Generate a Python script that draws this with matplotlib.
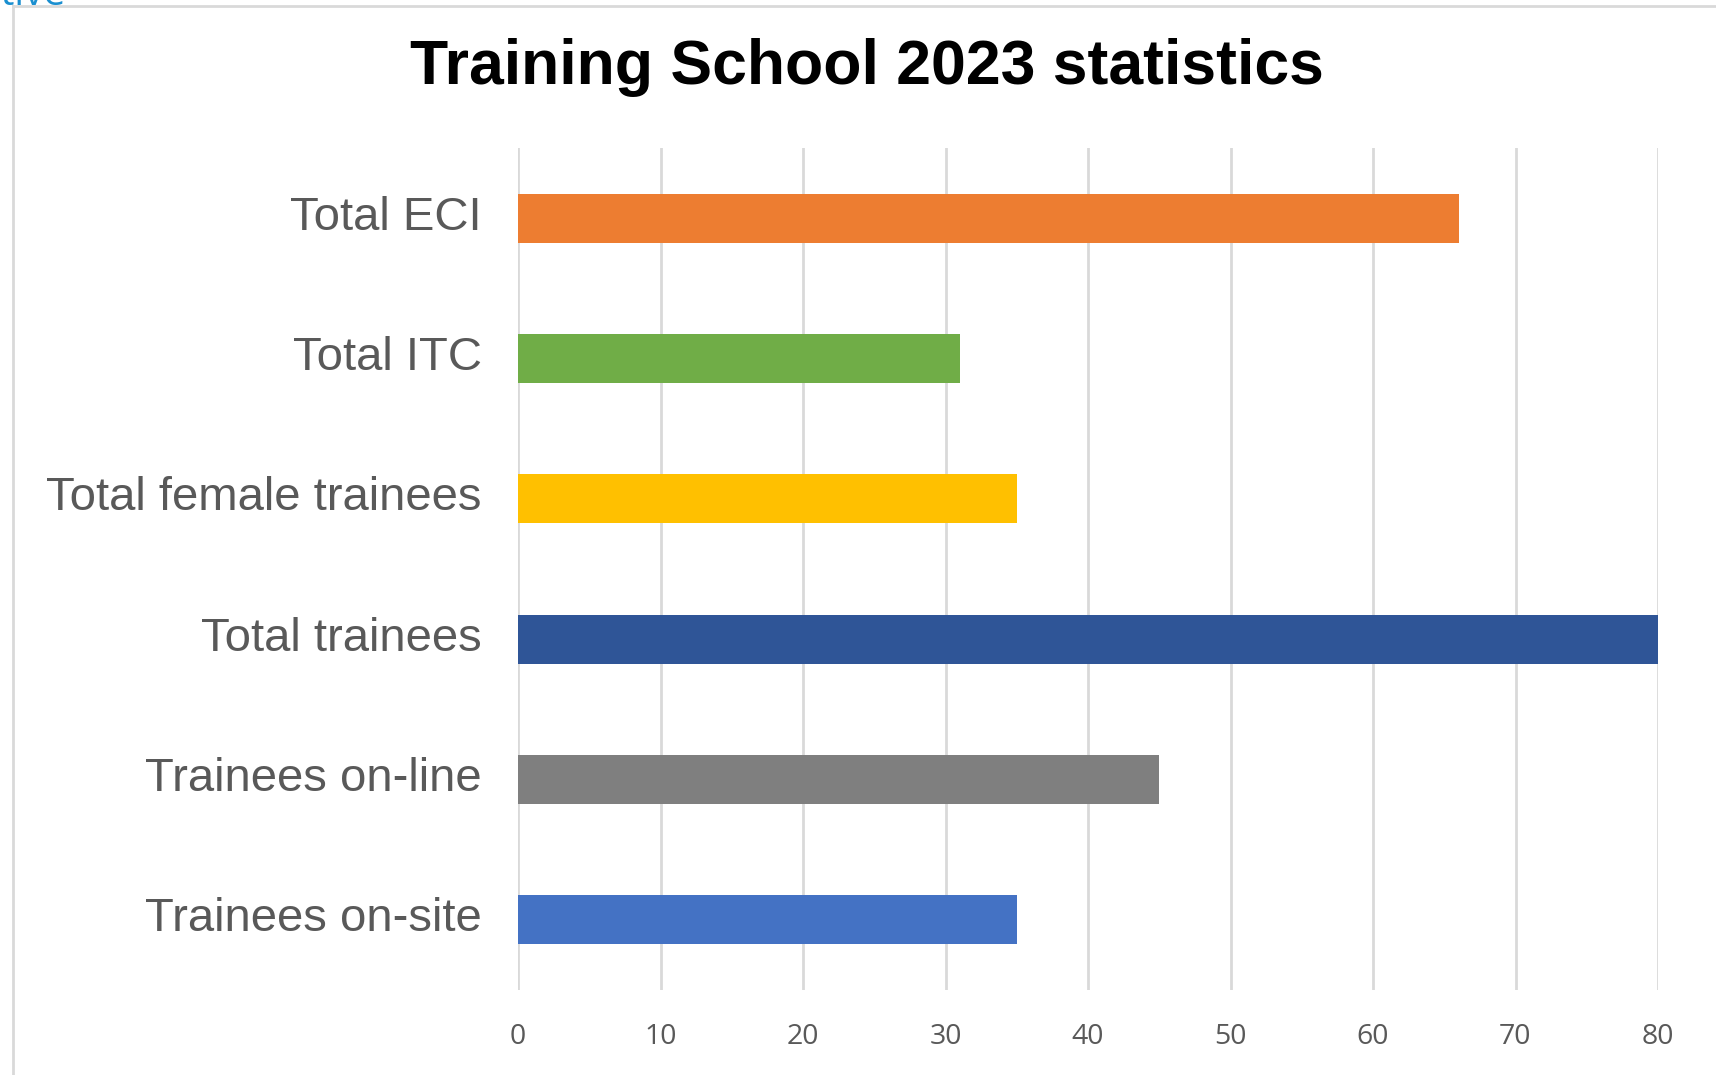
import matplotlib.pyplot as plt
import matplotlib.transforms as mtransforms
from matplotlib.lines import Line2D

# Datos del gráfico (de abajo hacia arriba)
categories = ['Trainees on-site', 'Trainees on-line', 'Total trainees',
              'Total female trainees', 'Total ITC', 'Total ECI']
values = [35, 45, 80, 35, 31, 66]
colors = ['#4472C4', '#7F7F7F', '#2F5597', '#FFC000', '#70AD47', '#ED7D31']
xticks = [0, 10, 20, 30, 40, 50, 60, 70, 80]

W, H = 1716, 1075
fig = plt.figure(figsize=(W / 100, H / 100), dpi=100)
ax = fig.add_axes([518 / W, 1 - 990 / H, (1658 - 518) / W, (990 - 148) / H])

ax.barh(range(len(categories)), values, height=0.35, color=colors, zorder=3)

ax.set_xlim(0, 80)
ax.set_ylim(-0.5, len(categories) - 0.5)
ax.set_xticks(xticks)
ax.set_yticks(range(len(categories)))
ax.set_yticklabels(categories, family=['Liberation Sans', 'DejaVu Sans'],
                   fontsize=34, color='#595959')
ax.set_xticklabels([str(t) for t in xticks], family=['Open Sans', 'DejaVu Sans'],
                   fontsize=20.5, color='#595959')
ax.tick_params(axis='y', length=0, pad=26)
ax.tick_params(axis='x', length=0, pad=24)
ax.grid(axis='x', color='#d9d9d9', linewidth=2, zorder=0)
for s in ax.spines.values():
    s.set_visible(False)

# etiquetas un poco por encima del centro de la barra, como en el original
offset = mtransforms.ScaledTranslation(0, 4 / 72, fig.dpi_scale_trans)
for lbl in ax.get_yticklabels():
    lbl.set_transform(lbl.get_transform() + offset)

fig.text(0.505, 0.937, 'Training School 2023 statistics',
         family=['Liberation Sans Narrow', 'Liberation Sans'], weight='bold',
         fontsize=45, ha='center', va='center', color='black')

# Bordes de la captura y texto recortado arriba a la izquierda
fig.add_artist(Line2D([13 / W, 13 / W], [0, 1 - 6 / H], color='#d9d9d9', linewidth=2))
fig.add_artist(Line2D([13 / W, 1], [1 - 6 / H, 1 - 6 / H], color='#d9d9d9', linewidth=2))
fig.text(-0.012, 1 - 5 / H, 'ative', family=['Open Sans', 'DejaVu Sans'],
         fontsize=28, color='#1a8fd0', ha='left', va='baseline')

fig.savefig('out.png', dpi=100)
